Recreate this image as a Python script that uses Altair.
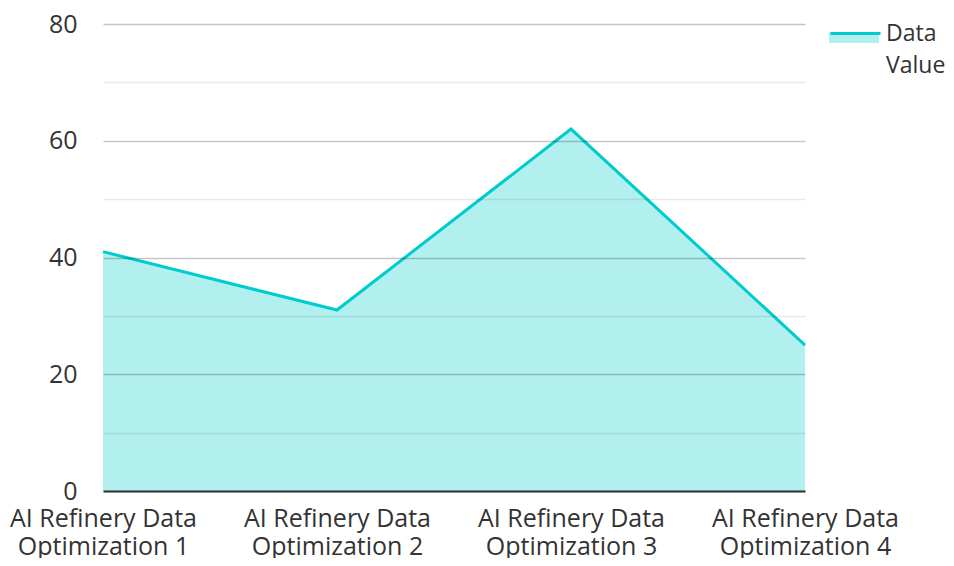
import altair as alt
import pandas as pd

categories = [
    "AI Refinery Data Optimization 1",
    "AI Refinery Data Optimization 2",
    "AI Refinery Data Optimization 3",
    "AI Refinery Data Optimization 4",
]
values = [41, 31, 62, 25]
series_name = "Data Value"

df = pd.DataFrame({"category": categories, "value": values,
                   "s_line": [series_name] * 4, "s_fill": [series_name] * 4})

FONT = "Open Sans"
LINE = "#00CCCC"
FILL = "#B2F0F0"
FS = 25

x_enc = alt.X(
    "category:N",
    sort=categories,
    scale=alt.Scale(type="point", padding=0),
    axis=alt.Axis(
        title=None,
        labelAngle=0,
        labelExpr="[slice(datum.label, 0, 16), slice(datum.label, 17)]",
        labelFontSize=FS,
        labelFont=FONT,
        labelColor="#333333",
        labelPadding=15,
        labelLineHeight=28,
        labelLimit=400,
        ticks=False,
        grid=False,
        domainColor="#333333",
        domainWidth=2,
        zindex=2,
    ),
)

y_enc = alt.Y(
    "value:Q",
    scale=alt.Scale(domain=[0, 80], nice=False),
    axis=alt.Axis(
        title=None,
        values=[0, 10, 20, 30, 40, 50, 60, 70, 80],
        labelExpr="datum.value % 20 === 0 ? datum.label : ''",
        labelFontSize=FS,
        labelFont=FONT,
        labelColor="#333333",
        labelPadding=26,
        ticks=False,
        domain=False,
        gridColor="#000000",
        gridWidth=1.5,
        gridOpacity={"condition": {"test": "datum.value % 20 === 0", "value": 0.22}, "value": 0.09},
        zindex=1,
    ),
)

legend_common = dict(
    title=None,
    orient="none",
    legendX=726,
    legendY=-17,
    symbolSize=2500,
    labelExpr="['Data', 'Value']",
    labelFontSize=23,
    labelFont=FONT,
    labelColor="#333333",
    labelOffset=4,
    labelLimit=200,
    padding=0,
)

area = alt.Chart(df).mark_area(interpolate="linear").encode(
    x=x_enc,
    y=y_enc,
    fill=alt.Fill(
        "s_fill:N",
        scale=alt.Scale(range=[FILL]),
        legend=alt.Legend(
            symbolType="M-1,0H1V0.44H-1Z",
            symbolStrokeWidth=0,
            labelOpacity=0,
            **legend_common,
        ),
    ),
)

line = alt.Chart(df).mark_line(strokeWidth=3, interpolate="linear").encode(
    x=x_enc,
    y=y_enc,
    stroke=alt.Stroke(
        "s_line:N",
        scale=alt.Scale(range=[LINE]),
        legend=alt.Legend(
            symbolType="M-1,0H1",
            symbolStrokeWidth=3,
            **legend_common,
        ),
    ),
)

chart = alt.layer(area, line).resolve_legend(fill="independent", stroke="independent").properties(
    width=702,
    height=467,
    autosize=alt.AutoSizeParams(type="none"),
    padding={"left": 95, "top": 16, "right": 141, "bottom": 67},
).configure(
    style={"guide-label": {"lineHeight": 32}},
    view=alt.ViewConfig(stroke=None),
)

chart.save("out.html", embed_options={"renderer": "svg", "actions": False})
